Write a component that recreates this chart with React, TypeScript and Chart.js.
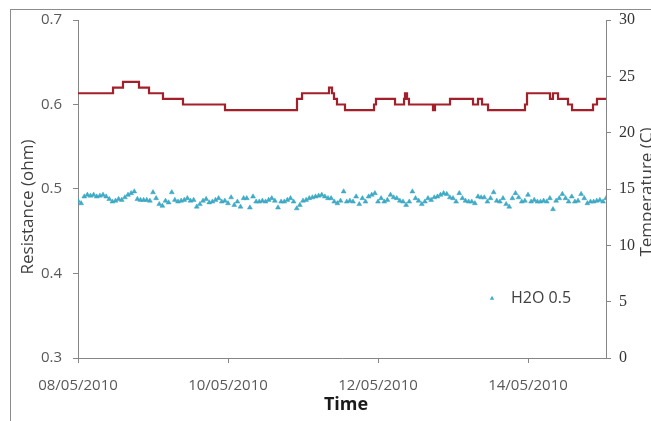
import React, { useEffect, useRef } from "react";
import { Chart, registerables } from "chart.js";

Chart.register(...registerables);

// Time axis: days since 08/05/2010 00:00
const xTickDays = [0, 2, 4, 6];
const xTickLabels = ["08/05/2010", "10/05/2010", "12/05/2010", "14/05/2010"];
const xMaxDays = 7.04;

// Resistance (ohm), hourly readings "H2O 0.5"
const resistance = [
  0.486, 0.483, 0.491, 0.493, 0.492, 0.493, 0.491, 0.492, 0.493, 0.491, 0.488,
  0.485, 0.486, 0.488, 0.487, 0.49, 0.493, 0.495, 0.497, 0.488, 0.487, 0.487,
  0.487, 0.486, 0.496, 0.489, 0.482, 0.48, 0.486, 0.484, 0.496, 0.487, 0.485,
  0.486, 0.487, 0.489, 0.486, 0.487, 0.479, 0.482, 0.486, 0.488, 0.484,
  0.485, 0.487, 0.489, 0.485, 0.486, 0.483, 0.49, 0.481, 0.485, 0.479, 0.489,
  0.489, 0.478, 0.491, 0.485, 0.485, 0.486, 0.485, 0.487, 0.489, 0.486, 0.478,
  0.485, 0.485, 0.487, 0.489, 0.485, 0.477, 0.481, 0.486, 0.487, 0.489, 0.49,
  0.491, 0.492, 0.493, 0.491, 0.489, 0.489, 0.485, 0.483, 0.486,
  0.497, 0.485, 0.486, 0.485, 0.491, 0.482, 0.489, 0.485, 0.491, 0.493, 0.495,
  0.485, 0.489, 0.485, 0.487, 0.493, 0.49, 0.489, 0.486, 0.485, 0.481, 0.485,
  0.497, 0.489, 0.486, 0.482, 0.485, 0.489, 0.487, 0.49, 0.491, 0.493, 0.495,
  0.494, 0.49, 0.489, 0.485, 0.495, 0.489, 0.486, 0.485, 0.485,
  0.483, 0.491, 0.49, 0.49, 0.485, 0.489, 0.496, 0.486, 0.485, 0.489, 0.482,
  0.479, 0.489, 0.495, 0.49, 0.485, 0.486, 0.493, 0.485, 0.487, 0.485, 0.485,
  0.486, 0.485, 0.489, 0.476, 0.486, 0.489, 0.494, 0.489, 0.485, 0.491, 0.485,
  0.486, 0.494, 0.489, 0.483, 0.485, 0.485, 0.486, 0.487, 0.485, 0.489,
];

// Temperature (C) step changes: day offset and new value
const tempDays = [
  0, 0.467, 0.6, 0.813, 0.947, 1.133, 1.4, 1.96, 2.92, 2.987, 3.347, 3.387,
  3.413, 3.453, 3.56, 3.947, 3.973, 4.227, 4.347, 4.36, 4.387, 4.413, 4.733,
  4.76, 4.96, 5.267, 5.333, 5.387, 5.467, 5.96, 5.987, 6.293, 6.333, 6.4,
  6.533, 6.587, 6.867, 6.92, 7.04,
];
const tempValues = [
  23.5, 24, 24.5, 24, 23.5, 23, 22.5, 22, 23, 23.5, 24, 23.5, 23, 22.5, 22,
  22.5, 23, 22.5, 23, 23.5, 23, 22.5, 22, 22.5, 23, 22.5, 23, 22.5, 22, 22.5,
  23.5, 23, 23.5, 23, 22.5, 22, 22.5, 23, 23,
];

const seriesLabel = "H2O 0.5";
const leftTitle = "Resistance (ohm)";
const rightTitle = "Temperature (C)";
const bottomTitle = "Time";

const FONT = '"Open Sans", "Liberation Sans", sans-serif';
const triColor = "#3cadc9";
const lineColor = "#a3202a";

const decorPlugin = {
  id: "decor",
  beforeDraw(chart: any) {
    const ctx = chart.ctx;
    ctx.save();
    ctx.fillStyle = "#ffffff";
    ctx.fillRect(0, 0, chart.width, chart.height);
    ctx.strokeStyle = "#8c8c8c";
    ctx.lineWidth = 1;
    ctx.strokeRect(10.5, 9.5, chart.width + 50, chart.height + 50);
    ctx.restore();
  },
  afterDraw(chart: any) {
    const ctx = chart.ctx;
    const area = chart.chartArea;
    const midY = (area.top + area.bottom) / 2;
    ctx.save();
    ctx.fillStyle = "#404040";
    ctx.font = `17px ${FONT}`;
    ctx.textAlign = "center";
    ctx.textBaseline = "middle";
    // left title
    ctx.save();
    ctx.translate(28, midY + 18);
    ctx.rotate(-Math.PI / 2);
    ctx.fillText(leftTitle, 0, 0);
    ctx.restore();
    // right title
    ctx.save();
    ctx.translate(area.right + 41, midY + 3);
    ctx.rotate(-Math.PI / 2);
    ctx.fillText(rightTitle, 0, 0);
    ctx.restore();
    // bottom title
    ctx.font = `bold 18px ${FONT}`;
    ctx.textBaseline = "alphabetic";
    ctx.fillStyle = "#1a1a1a";
    ctx.fillText(bottomTitle, (area.left + area.right) / 2 + 4, chart.height - 11);
    // legend
    const lx = area.right - 114;
    const ly = chart.scales.y1.getPixelForValue(5.3);
    ctx.fillStyle = triColor;
    ctx.beginPath();
    ctx.moveTo(lx, ly - 2.5);
    ctx.lineTo(lx + 2.2, ly + 1.5);
    ctx.lineTo(lx - 2.2, ly + 1.5);
    ctx.closePath();
    ctx.fill();
    ctx.fillStyle = "#404040";
    ctx.font = `16px ${FONT}`;
    ctx.textAlign = "left";
    ctx.textBaseline = "middle";
    ctx.fillText(seriesLabel, lx + 19, ly);
    ctx.restore();
  },
};

export default function App() {
  const ref = useRef<HTMLCanvasElement>(null);
  useEffect(() => {
    if (!ref.current) return;
    const resPoints = resistance.map((v, i) => ({ x: i / 24, y: v }));
    const tempPoints = tempDays.map((d, i) => ({ x: d, y: tempValues[i] }));
    const chart = new Chart(ref.current, {
      type: "line",
      data: {
        datasets: [
          {
            label: seriesLabel,
            data: resPoints,
            yAxisID: "y",
            showLine: false,
            pointStyle: "triangle",
            pointRadius: 2.8,
            backgroundColor: triColor,
            borderColor: "#3ba3bd",
            borderWidth: 0.5,
            order: 1,
          },
          {
            label: "Temperature",
            data: tempPoints,
            yAxisID: "y1",
            stepped: true,
            borderColor: lineColor,
            borderWidth: 2.2,
            pointRadius: 0,
            fill: false,
            order: 2,
          },
        ],
      },
      options: {
        responsive: false,
        animation: false,
        devicePixelRatio: 1,
        layout: { padding: { top: 20, left: 0, right: 0, bottom: 0 }, autoPadding: false } as any,
        plugins: { legend: { display: false }, tooltip: { enabled: false } },
        scales: {
          x: {
            type: "linear",
            min: 0,
            max: xMaxDays,
            afterBuildTicks: (s: any) => {
              s.ticks = xTickDays.map((v) => ({ value: v }));
            },
            afterFit: (s: any) => {
              s.height = 63;
            },
            ticks: {
              callback: (_v: any, i: number) => xTickLabels[i],
              font: { family: FONT, size: 15 },
              color: "#595959",
              padding: 14,
              maxRotation: 0,
              autoSkip: false,
            },
            grid: { drawOnChartArea: false, tickLength: 5, color: "#868686" },
            border: { color: "#868686" },
          },
          y: {
            position: "left",
            min: 0.3,
            max: 0.7,
            afterFit: (s: any) => {
              s.width = 78;
            },
            ticks: {
              stepSize: 0.1,
              callback: (v: any) => Number(v).toFixed(1),
              font: { family: FONT, size: 15 },
              color: "#595959",
              padding: 11,
            },
            grid: { drawOnChartArea: false, tickLength: 5, color: "#868686" },
            border: { color: "#868686" },
          },
          y1: {
            position: "right",
            min: 0,
            max: 30,
            afterFit: (s: any) => {
              s.width = 45;
            },
            ticks: {
              stepSize: 5,
              font: { family: '"Liberation Serif", "DejaVu Serif", serif', size: 16 },
              color: "#333333",
              padding: 8,
            },
            grid: { drawOnChartArea: false, tickLength: 5, color: "#868686" },
            border: { color: "#868686" },
          },
        },
      },
      plugins: [decorPlugin],
    } as any);
    return () => chart.destroy();
  }, []);
  return (
    <div style={{ position: "fixed", left: 0, top: 0, width: 651, height: 421, background: "#fff", overflow: "hidden" }}>
      <canvas ref={ref} width={651} height={421} style={{ display: "block" }} />
    </div>
  );
}
